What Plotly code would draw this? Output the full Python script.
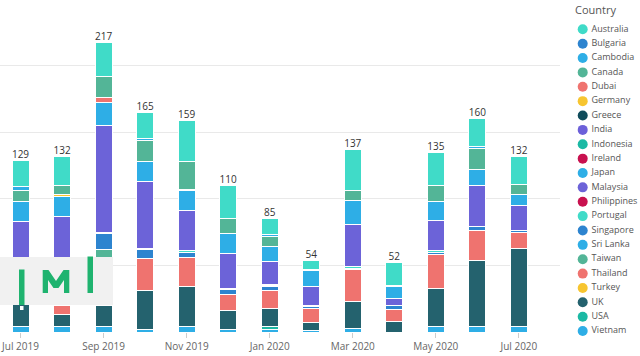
import plotly.graph_objects as go

months = ["Jul 2019", "Aug 2019", "Sep 2019", "Oct 2019", "Nov 2019", "Dec 2019",
          "Jan 2020", "Feb 2020", "Mar 2020", "Apr 2020", "May 2020", "Jun 2020", "Jul 2020"]
tick_labels = ["Jul 2019", "Sep 2019", "Nov 2019", "Jan 2020", "Mar 2020", "May 2020", "Jul 2020"]

countries = ["Australia", "Bulgaria", "Cambodia", "Canada", "Dubai", "Germany", "Greece",
             "India", "Indonesia", "Ireland", "Japan", "Malaysia", "Philippines", "Portugal",
             "Singapore", "Sri Lanka", "Taiwan", "Thailand", "Turkey", "UK", "USA", "Vietnam"]

colors = {
    "Australia": "#40dbc8", "Bulgaria": "#2d84cf", "Cambodia": "#2eaee6", "Canada": "#53b597",
    "Dubai": "#ef736f", "Germany": "#f7c530", "Greece": "#104c5b", "India": "#6c60d9",
    "Indonesia": "#1bb9a4", "Ireland": "#c8114f", "Japan": "#2eaee6", "Malaysia": "#6c63d8",
    "Philippines": "#c8114f", "Portugal": "#40dbc8", "Singapore": "#2d84cf", "Sri Lanka": "#2eaee6",
    "Taiwan": "#53b597", "Thailand": "#ef736f", "Turkey": "#f7c530", "UK": "#24626e",
    "USA": "#1bb9a4", "Vietnam": "#2eaee6",
}

australia   = [20, 22, 25, 20, 31, 25, 12, 7, 31, 17, 25, 21, 21]
bulgaria    = [0] * 13
cambodia    = [3, 0, 0, 1, 0, 0, 1, 1, 0, 1, 0, 1, 0]
canada      = [8, 7, 16, 16, 21, 11, 8, 0, 7, 0, 12, 16, 8]
dubai       = [0, 0, 4, 0, 0, 0, 0, 0, 0, 0, 0, 0, 0]
germany     = [0, 1, 0, 0, 0, 0, 0, 0, 0, 0, 0, 0, 0]
greece      = [0, 0, 0, 0, 1, 0, 0, 0, 0, 0, 0, 0, 0]
india       = [0] * 13
indonesia   = [0] * 13
ireland     = [0] * 13
japan       = [15, 15, 17, 15, 15, 15, 11, 12, 18, 9, 14, 12, 8]
malaysia    = [45, 63, 80, 50, 30, 26, 17, 14, 32, 5, 23, 31, 19]
philippines = [0, 0, 0, 0, 0, 0, 1, 0, 0, 0, 0, 0, 0]
portugal    = [1, 1, 1, 1, 1, 1, 1, 1, 1, 0, 1, 0, 0]
singapore   = [3, 3, 12, 7, 4, 4, 3, 1, 1, 3, 2, 3, 1]
sri_lanka   = [0] * 13
taiwan      = [0, 0, 8, 0, 0, 0, 0, 0, 0, 0, 0, 0, 0]
thailand    = [10, 7, 34, 24, 22, 12, 13, 11, 24, 9, 25, 22, 12]
turkey      = [0] * 13
uk          = [20, 9, 16, 29, 30, 14, 14, 6, 20, 8, 29, 50, 59]
usa         = [0, 0, 0, 0, 0, 0, 2, 0, 0, 0, 0, 0, 0]
vietnam     = [4, 4, 4, 2, 4, 2, 2, 1, 3, 0, 4, 4, 4]

values = {
    "Australia": australia, "Bulgaria": bulgaria, "Cambodia": cambodia, "Canada": canada,
    "Dubai": dubai, "Germany": germany, "Greece": greece, "India": india,
    "Indonesia": indonesia, "Ireland": ireland, "Japan": japan, "Malaysia": malaysia,
    "Philippines": philippines, "Portugal": portugal, "Singapore": singapore,
    "Sri Lanka": sri_lanka, "Taiwan": taiwan, "Thailand": thailand, "Turkey": turkey,
    "UK": uk, "USA": usa, "Vietnam": vietnam,
}

FONT = "Open Sans"
W, H = 640, 356
x_idx = list(range(len(months)))

fig = go.Figure()

# stacked bars: last legend entry at the bottom
for c in reversed(countries):
    fig.add_trace(go.Bar(
        x=x_idx, y=values[c], name=c, width=0.41,
        marker=dict(color=colors[c], line=dict(color="white", width=1)),
        showlegend=False, hoverinfo="skip",
    ))

totals = [sum(values[c][i] for c in countries) for i in x_idx]
fig.add_trace(go.Scatter(
    x=x_idx, y=totals, mode="text", text=[str(t) for t in totals],
    textposition="top center", textfont=dict(family=FONT, size=10, color="#333333"),
    showlegend=False, hoverinfo="skip", cliponaxis=False,
))

# custom legend (pixel coordinates on overlay axes)
leg_y = [29.3 + i * 14.37 for i in range(len(countries))]
fig.add_trace(go.Scatter(
    x=[582.7] * len(countries), y=leg_y, mode="markers",
    marker=dict(size=10, color=[colors[c] for c in countries]),
    xaxis="x2", yaxis="y2", showlegend=False, hoverinfo="skip", cliponaxis=False,
))
fig.add_trace(go.Scatter(
    x=[591.5] * len(countries), y=leg_y, mode="text", text=countries,
    textposition="middle right", textfont=dict(family=FONT, size=9, color="#555555"),
    xaxis="x2", yaxis="y2", showlegend=False, hoverinfo="skip", cliponaxis=False,
))
fig.add_trace(go.Scatter(
    x=[575], y=[11], mode="text", text=["Country"],
    textposition="middle right", textfont=dict(family=FONT, size=11, color="#555555"),
    xaxis="x2", yaxis="y2", showlegend=False, hoverinfo="skip", cliponaxis=False,
))

# watermark logo (pixel -> paper)
def px(x):
    return x / W

def py(y):
    return 1 - y / H

green = "#1fb36f"
shapes = [
    dict(type="rect", xref="paper", yref="paper", x0=px(0), x1=px(113), y0=py(305), y1=py(257),
         fillcolor="#f1f1f1", line=dict(width=0), layer="above"),
    dict(type="rect", xref="paper", yref="paper", x0=px(19), x1=px(24.5), y0=py(305), y1=py(269.5),
         fillcolor=green, line=dict(width=0), layer="above"),
    dict(type="rect", xref="paper", yref="paper", x0=px(20), x1=px(23.5), y0=py(310), y1=py(306),
         fillcolor="white", line=dict(width=0), layer="above"),
    dict(type="rect", xref="paper", yref="paper", x0=px(87.5), x1=px(93), y0=py(293), y1=py(256.5),
         fillcolor=green, line=dict(width=0), layer="above"),
]
m_pts = [(42.7, 293), (42.7, 270), (48.5, 270), (56, 281), (63.5, 270), (69.3, 270),
         (69.3, 293), (64, 293), (64, 280), (58.5, 288), (53.5, 288), (48, 280), (48, 293)]
path = "M " + " L ".join(f"{px(a):.5f},{py(b):.5f}" for a, b in m_pts) + " Z"
shapes.append(dict(type="path", xref="paper", yref="paper", path=path,
                   fillcolor=green, line=dict(width=0), layer="above"))

fig.update_layout(
    width=W, height=H,
    margin=dict(l=0, r=0, t=0, b=0),
    paper_bgcolor="white", plot_bgcolor="white",
    barmode="stack",
    hovermode=False,
    font=dict(family=FONT, color="#666666"),
    xaxis=dict(
        domain=[0, 560 / W], range=[-0.494, 12.99],
        tickmode="array", tickvals=x_idx[::2], ticktext=tick_labels,
        ticks="outside", ticklen=5, tickcolor="#cccccc", showgrid=False, zeroline=False,
        showline=False, tickfont=dict(family=FONT, size=10, color="#666666"),
    ),
    yaxis=dict(
        domain=[24 / H, 344 / H], range=[0, 240], dtick=50, tick0=0,
        showticklabels=False, showgrid=True, gridcolor="#e9e9e9", gridwidth=1,
        zeroline=False, showline=False,
    ),
    xaxis2=dict(domain=[560 / W, 1], range=[560, 640], visible=False, anchor="y2"),
    yaxis2=dict(domain=[0, 1], range=[H, 0], visible=False, anchor="x2"),
    shapes=shapes,
)

fig.write_html(
    "out.html",
    config={"displayModeBar": False, "staticPlot": True},
    post_script="document.body.style.margin='0';document.body.style.overflow='hidden';",
)
